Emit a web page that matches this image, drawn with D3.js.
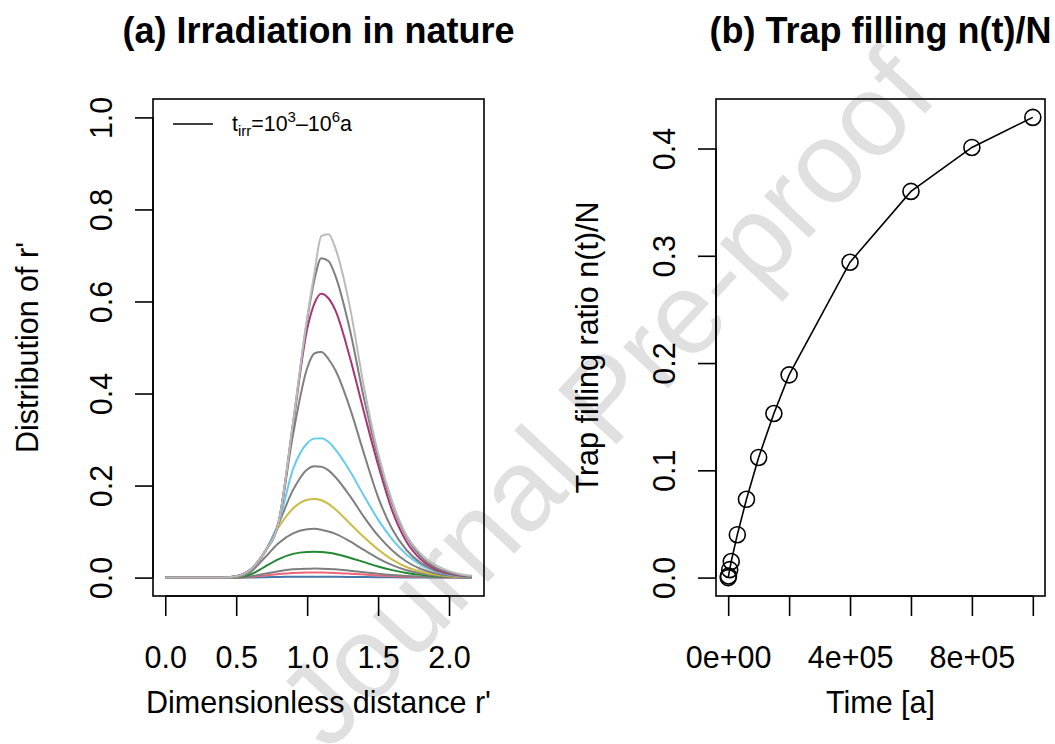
<!DOCTYPE html>
<html>
<head>
<meta charset="utf-8">
<script src="https://cdn.jsdelivr.net/npm/d3@7"></script>
<style>
  body { margin: 0; background: #fff; }
  text { font-family: "Liberation Sans", Arial, Helvetica, sans-serif; }
</style>
</head>
<body>
<svg id="chart" width="1055" height="744"></svg>
<script>
// ---- data: panel (a), distribution of r' for each irradiation time ----
const rGrid = [0, 0.4, 0.5, 0.6, 0.7, 0.8, 0.9, 1.0, 1.05, 1.1, 1.15, 1.2, 1.3, 1.4, 1.5, 1.6, 1.7, 1.8, 1.9, 2.0, 2.1, 2.16];

const dist1e3   = [0,0,0,0.0002,0.0008,0.0014,0.0018,0.002,0.002,0.002,0.0019,0.0018,0.0015,0.0012,0.0009,0.0006,0.0004,0.0002,0.0001,0.0001,0,0];
const dist5e3   = [0,0,0.0001,0.0013,0.0046,0.0079,0.0101,0.0109,0.011,0.0109,0.0106,0.0101,0.0085,0.0066,0.0047,0.0032,0.002,0.0012,0.0006,0.0003,0.0001,0.0001];
const dist1e4   = [0,0,0.0002,0.0023,0.0082,0.014,0.0179,0.0194,0.0195,0.0193,0.0187,0.0179,0.015,0.0117,0.0084,0.0057,0.0035,0.002,0.0011,0.0005,0.0003,0.0002];
const dist3e4   = [0,0,0.0006,0.0067,0.0235,0.0403,0.0515,0.0557,0.056,0.0554,0.0538,0.0515,0.0431,0.0336,0.0241,0.0162,0.0101,0.0059,0.0031,0.0016,0.0007,0.0004];
const dist6e4   = [0,0,0.001,0.012,0.043,0.075,0.096,0.105,0.106,0.104,0.1,0.095,0.079,0.06,0.042,0.027,0.016,0.009,0.0045,0.002,0.001,0.0005];
const dist1e5   = [0,0,0.002,0.017,0.055,0.11,0.15,0.169,0.171,0.168,0.16,0.148,0.118,0.088,0.061,0.039,0.023,0.013,0.0065,0.003,0.0013,0.0008];
const dist15e4  = [0,0,0.003,0.017,0.055,0.118,0.19,0.235,0.242,0.241,0.233,0.218,0.178,0.132,0.091,0.059,0.035,0.019,0.0095,0.0045,0.002,0.0012];
const dist2e5   = [0,0,0.003,0.017,0.055,0.12,0.235,0.292,0.302,0.303,0.295,0.278,0.232,0.178,0.126,0.083,0.05,0.028,0.014,0.0065,0.003,0.0018];
const dist4e5   = [0,0,0.003,0.017,0.055,0.122,0.31,0.455,0.487,0.49,0.475,0.45,0.37,0.27,0.175,0.105,0.06,0.032,0.016,0.0075,0.0033,0.002];
const dist6e5   = [0,0,0.003,0.017,0.055,0.122,0.33,0.54,0.595,0.617,0.607,0.58,0.48,0.36,0.245,0.145,0.078,0.04,0.019,0.009,0.004,0.0025];
const dist8e5   = [0,0,0.003,0.017,0.055,0.122,0.335,0.56,0.645,0.694,0.688,0.655,0.54,0.39,0.26,0.16,0.088,0.046,0.023,0.011,0.005,0.003];
const dist1e6   = [0,0,0.003,0.017,0.055,0.122,0.335,0.565,0.66,0.742,0.746,0.715,0.59,0.415,0.27,0.165,0.092,0.052,0.028,0.014,0.006,0.004];

const distSeries = [dist1e3, dist5e3, dist1e4, dist3e4, dist6e4, dist1e5, dist15e4, dist2e5, dist4e5, dist6e5, dist8e5, dist1e6];
const distColors = ["#4477AA", "#EE6677", "#7f7f7f", "#228833", "#7f7f7f", "#CCBB44", "#7f7f7f", "#66CCEE", "#7f7f7f", "#AA3377", "#7f7f7f", "#BBBBBB"];

const xTicksA = [0, 0.5, 1.0, 1.5, 2.0];
const xLabelsA = ["0.0", "0.5", "1.0", "1.5", "2.0"];
const yTicksA = [0, 0.2, 0.4, 0.6, 0.8, 1.0];
const yLabelsA = ["0.0", "0.2", "0.4", "0.6", "0.8", "1.0"];

// ---- data: panel (b), trap filling ratio vs time ----
const timeYears  = [0, 1e3, 5e3, 1e4, 3e4, 6e4, 1e5, 1.5e5, 2e5, 4e5, 6e5, 8e5, 1e6];
const fillRatio  = [0, 0.0015, 0.0074, 0.015, 0.040, 0.073, 0.112, 0.153, 0.189, 0.294, 0.360, 0.401, 0.429];

const xTicksB = [0, 2e5, 4e5, 6e5, 8e5, 1e6];
const xLabelsB = ["0e+00", "", "4e+05", "", "8e+05", ""];
const yTicksB = [0, 0.1, 0.2, 0.3, 0.4];
const yLabelsB = ["0.0", "0.1", "0.2", "0.3", "0.4"];

// ---- drawing ----
const svg = d3.select("#chart");
const FS = 30.5;      // axis text size
const LW = 1.6;       // frame / axis line width

// R style 4% range extension
function ext(lo, hi) { const d = (hi - lo) * 0.04; return [lo - d, hi + d]; }

// watermark
svg.append("text")
  .attr("transform", "translate(605,398) rotate(-47)")
  .attr("text-anchor", "middle")
  .attr("dominant-baseline", "central")
  .attr("font-size", 116)
  .attr("fill", "#e0e0e0")
  .text("Journal Pre-proof");

function panel(box, xDom, yDom, xt, xl, yt, yl, title, xTitle, yTitle, yTitleX) {
  const x = d3.scaleLinear().domain(ext(xDom[0], xDom[1])).range([box.x0, box.x1]);
  const y = d3.scaleLinear().domain(ext(yDom[0], yDom[1])).range([box.y1, box.y0]);

  // x axis
  const gx = svg.append("g").attr("transform", "translate(0," + box.y1 + ")")
    .call(d3.axisBottom(x).tickValues(xt).tickSize(20).tickFormat((d, i) => xl[i]));
  gx.select(".domain").remove();
  gx.append("line").attr("x1", x(xt[0])).attr("x2", x(xt[xt.length - 1]))
    .attr("stroke", "#000").attr("stroke-width", LW);
  gx.selectAll(".tick line").attr("stroke-width", LW);
  gx.selectAll(".tick text").attr("y", 72).attr("dy", null)
    .attr("font-size", FS).attr("font-family", null).attr("fill", "#000");

  // y axis
  const gy = svg.append("g").attr("transform", "translate(" + box.x0 + ",0)")
    .call(d3.axisLeft(y).tickValues(yt).tickSize(18).tickFormat((d, i) => yl[i]));
  gy.select(".domain").remove();
  gy.append("line").attr("y1", y(yt[0])).attr("y2", y(yt[yt.length - 1]))
    .attr("stroke", "#000").attr("stroke-width", LW);
  gy.selectAll(".tick line").attr("stroke-width", LW);
  gy.selectAll(".tick text").attr("x", null).attr("dy", null)
    .attr("transform", "translate(-41,0) rotate(-90)")
    .attr("text-anchor", "middle")
    .attr("font-size", FS).attr("font-family", null).attr("fill", "#000");

  // frame
  svg.append("rect").attr("x", box.x0).attr("y", box.y0)
    .attr("width", box.x1 - box.x0).attr("height", box.y1 - box.y0)
    .attr("fill", "none").attr("stroke", "#000").attr("stroke-width", LW);

  const cx = (box.x0 + box.x1) / 2, cy = (box.y0 + box.y1) / 2;
  svg.append("text").attr("x", cx).attr("y", 43).attr("text-anchor", "middle")
    .attr("font-size", 36).attr("font-weight", "bold").text(title);
  svg.append("text").attr("x", cx).attr("y", 713).attr("text-anchor", "middle")
    .attr("font-size", FS).text(xTitle);
  svg.append("text").attr("transform", "translate(" + yTitleX + "," + cy + ") rotate(-90)")
    .attr("text-anchor", "middle").attr("font-size", FS).text(yTitle);

  return { x, y };
}

// panel (a)
const A = panel({ x0: 153, x1: 484, y0: 99, y1: 596 }, [0, 2.16], [0, 1],
  xTicksA, xLabelsA, yTicksA, yLabelsA,
  "(a) Irradiation in nature", "Dimensionless distance r'", "Distribution of r'", 38);

const lineA = d3.line().x((d, i) => A.x(rGrid[i])).y(d => A.y(d)).curve(d3.curveMonotoneX);
svg.append("g").selectAll("path").data(distSeries).join("path")
  .attr("d", lineA)
  .attr("fill", "none")
  .attr("stroke", (d, i) => distColors[i])
  .attr("stroke-width", 2);

// legend
svg.append("line").attr("x1", 173).attr("x2", 213).attr("y1", 124).attr("y2", 124)
  .attr("stroke", "#000").attr("stroke-width", LW);
const leg = svg.append("text").attr("x", 232).attr("y", 131).attr("font-size", 21.4);
leg.append("tspan").text("t");
leg.append("tspan").attr("dy", 5).attr("font-size", 15).text("irr");
leg.append("tspan").attr("dy", -5).text("=10");
leg.append("tspan").attr("dy", -9).attr("font-size", 15).text("3");
leg.append("tspan").attr("dy", 9).text("\u201310");
leg.append("tspan").attr("dy", -9).attr("font-size", 15).text("6");
leg.append("tspan").attr("dy", 9).text("a");

// panel (b)
const B = panel({ x0: 716, x1: 1045, y0: 99, y1: 596 }, [0, 1e6], [0, 0.429],
  xTicksB, xLabelsB, yTicksB, yLabelsB,
  "(b) Trap filling n(t)/N", "Time [a]", "Trap filling ratio n(t)/N", 598);

const pts = timeYears.map((t, i) => [t, fillRatio[i]]);
svg.append("path").datum(pts)
  .attr("d", d3.line().x(d => B.x(d[0])).y(d => B.y(d[1])))
  .attr("fill", "none").attr("stroke", "#000").attr("stroke-width", 1.6);
svg.append("g").selectAll("circle").data(pts).join("circle")
  .attr("cx", d => B.x(d[0])).attr("cy", d => B.y(d[1])).attr("r", 8)
  .attr("fill", "none").attr("stroke", "#000").attr("stroke-width", 1.6);
</script>
</body>
</html>
